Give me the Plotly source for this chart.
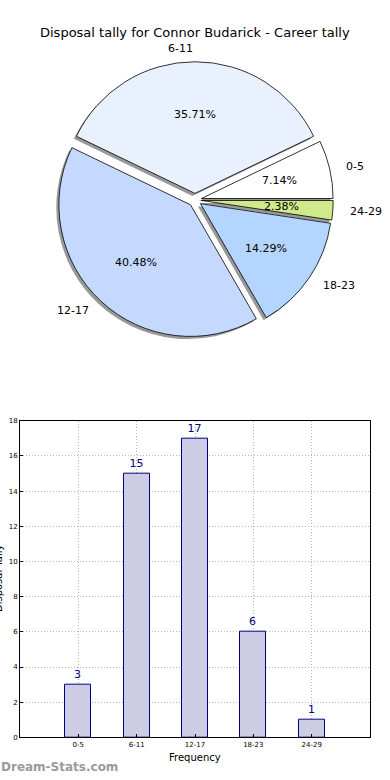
import math
import plotly.graph_objects as go

categories = ["0-5", "6-11", "12-17", "18-23", "24-29"]
counts = [3, 15, 17, 6, 1]
pie_colors = ["#ffffff", "#e9f1ff", "#c5d9ff", "#b4d5ff", "#cfe98b"]
title_text = "Disposal tally for Connor Budarick - Career tally"
x_label = "Frequency"
y_label = "Disposal Tally"
watermark = "Dream-Stats.com"
y_ticks = list(range(0, 19, 2))

W, H = 390, 780
FONT = "DejaVu Sans"

total = sum(counts)
# plotly places the end of the first counterclockwise slice at the rotation angle
rot = 90 - 360 * counts[0] / total

# pie geometry (pixels)
cx, cy = 195, 198
r = 133
pull = 0.05
ext = r * (1 + pull)
dom_x = [(cx - ext) / W, (cx + ext) / W]
dom_y = [(H - cy - ext) / H, (H - cy + ext) / H]
sh = 2.6
dom_x_s = [(cx - sh - ext) / W, (cx - sh + ext) / W]
dom_y_s = [(H - cy - sh - ext) / H, (H - cy - sh + ext) / H]

fig = go.Figure()

# shadow pie
fig.add_trace(go.Pie(
    labels=categories, values=counts, sort=False, direction="counterclockwise",
    rotation=rot, pull=[pull] * len(counts), textinfo="none", hoverinfo="skip",
    marker=dict(colors=["rgba(70,70,70,0.55)"] * len(counts), line=dict(width=0)),
    domain=dict(x=dom_x_s, y=dom_y_s), showlegend=False,
))
# main pie
fig.add_trace(go.Pie(
    labels=categories, values=counts, sort=False, direction="counterclockwise",
    rotation=rot, pull=[pull] * len(counts), textinfo="none",
    marker=dict(colors=pie_colors, line=dict(color="black", width=0.8)),
    domain=dict(x=dom_x, y=dom_y), showlegend=False,
))

annotations = []
cum = 0.0
for lab, v in zip(categories, counts):
    frac = v / total
    th = 2 * math.pi * (cum + frac / 2)
    cum += frac
    c, s = math.cos(th), math.sin(th)
    d = (pull + 0.6) * r
    annotations.append(dict(
        x=(cx + d * c) / W, y=(H - cy + d * s) / H, xref="paper", yref="paper",
        text=f"{frac * 100:.2f}%", showarrow=False, xanchor="center", yanchor="middle",
        font=dict(family=FONT, size=11, color="black"),
    ))
    d = (pull + 1.1) * r
    annotations.append(dict(
        x=(cx + d * c) / W, y=(H - cy + d * s) / H, xref="paper", yref="paper",
        text=lab, showarrow=False, xanchor="left" if c > 1e-6 else "right", yanchor="middle",
        font=dict(family=FONT, size=11, color="black"),
    ))

annotations.append(dict(
    x=0.5, y=1 - 29 / H, xref="paper", yref="paper", text=title_text, showarrow=False,
    xanchor="center", yanchor="middle", font=dict(family=FONT, size=13, color="black"),
))
annotations.append(dict(
    x=0.5, y=1 - 761 / H, xref="paper", yref="paper", text=x_label, showarrow=False,
    xanchor="center", yanchor="middle", font=dict(family=FONT, size=10, color="black"),
))
annotations.append(dict(
    x=-2 / W, y=1 - 580 / H, xref="paper", yref="paper", text=y_label, showarrow=False,
    textangle=-90, xanchor="center", yanchor="middle", font=dict(family=FONT, size=10, color="black"),
))
annotations.append(dict(
    x=-1 / W, y=1 - 771 / H, xref="paper", yref="paper", text="<b>" + watermark + "</b>",
    showarrow=False, xanchor="left", yanchor="middle",
    font=dict(family=FONT, size=12, color="#9a9a9a"),
))

# bar chart
fig.add_trace(go.Bar(
    x=categories, y=counts, width=0.45, text=counts, textposition="outside",
    texttemplate="%{text}", cliponaxis=False,
    textfont=dict(family=FONT, size=11, color="#000080"),
    marker=dict(color="#ccccE4", line=dict(color="#000080", width=1)),
    showlegend=False, xaxis="x", yaxis="y",
))

grid_dash = "1px,2px"
fig.update_layout(
    width=W, height=H, margin=dict(l=0, r=0, t=0, b=0),
    paper_bgcolor="white", plot_bgcolor="white",
    font=dict(family=FONT),
    annotations=annotations,
    xaxis=dict(
        domain=[20 / W, 370 / W], range=[-1, 5], type="category",
        showline=True, mirror=True, linecolor="black", linewidth=1,
        showgrid=True, gridcolor="#b4b4b4", griddash=grid_dash, gridwidth=1,
        ticks="inside", ticklen=3, tickcolor="black",
        tickfont=dict(family=FONT, size=7, color="black"), zeroline=False,
    ),
    yaxis=dict(
        domain=[1 - 741 / H, 1 - 421 / H], range=[0, 18], tickvals=y_ticks,
        showline=True, mirror=True, linecolor="black", linewidth=1,
        showgrid=True, gridcolor="#b4b4b4", griddash=grid_dash, gridwidth=1,
        ticks="inside", ticklen=3, tickcolor="black",
        tickfont=dict(family=FONT, size=7, color="black"), zeroline=False,
    ),
    bargap=0,
)

fig.write_html(
    "out.html",
    config={"displayModeBar": False},
    post_script="document.body.style.margin='0';document.body.style.overflow='hidden';",
)
